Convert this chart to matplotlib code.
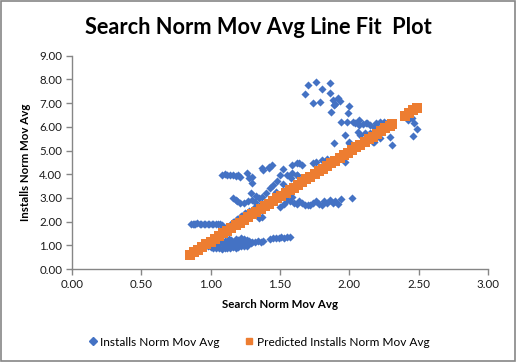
import numpy as np
import matplotlib
matplotlib.use('Agg')
from matplotlib import pyplot as plt
from matplotlib.patches import Rectangle
from matplotlib.lines import Line2D

# ----- DATA ----- #

# Installs Norm Mov Avg (actual)
inst_x = [0.86, 0.87, 0.88, 0.89, 0.90, 0.92, 0.93, 0.95, 0.96, 0.98, 0.99, 1.01, 1.02, 1.04, 1.05, 1.07, 1.08, 1.14,
          0.98, 1.00, 1.02, 1.04, 1.06, 1.08, 1.10, 1.12, 1.14, 1.16, 1.18, 1.20, 1.22, 1.24, 1.26,
          1.01, 1.03, 1.05, 1.07, 1.09, 1.11, 1.13, 1.15, 1.17, 1.19, 1.21, 1.23, 1.25, 1.27, 1.29,
          1.10, 1.13, 1.15, 1.18, 1.20, 1.22, 1.24, 1.26, 1.28, 1.30, 1.32, 1.34, 1.36, 1.38,
          1.43, 1.45, 1.47, 1.49, 1.51, 1.53, 1.55, 1.57,
          1.16, 1.19, 1.22, 1.25, 1.28, 1.31, 1.35, 1.35, 1.37,
          1.16, 1.18, 1.19, 1.21, 1.24, 1.27, 1.30, 1.32, 1.29, 1.33, 1.35, 1.37, 1.40, 1.47,
          1.08, 1.10, 1.12, 1.14, 1.16, 1.18, 1.20, 1.21, 1.26, 1.28, 1.30, 1.30, 1.37, 1.42, 1.44,
          1.50, 1.53, 1.55, 1.57, 1.59, 1.60, 1.62, 1.64, 1.66, 1.68, 1.70, 1.72, 1.74, 1.76, 1.78,
          1.80, 1.82, 1.84, 1.86, 1.88, 1.90, 1.92, 1.94, 2.02,
          1.43, 1.45, 1.48, 1.50, 1.52, 1.55, 1.58, 1.62,
          1.38, 1.42, 1.52, 1.59, 1.62, 1.64, 1.66, 1.59, 1.62, 1.74, 1.76, 1.80, 1.84,
          1.89, 1.97, 2.00, 1.97,
          1.68, 1.70, 1.74, 1.76, 1.79, 1.80, 1.86, 1.86, 1.87, 1.88, 1.89, 1.90, 1.92, 1.93, 1.99, 2.00,
          1.94, 1.98, 2.03, 2.04, 2.07, 2.07, 2.10, 2.12, 2.13, 2.15, 2.15, 2.18, 2.19, 2.20, 2.22, 2.25,
          2.27, 2.06, 2.08, 2.11, 2.29, 2.31, 2.00, 2.17, 2.18, 2.22,
          2.42, 2.45, 2.47, 2.49, 2.46]
inst_y = [1.88, 1.90, 1.92, 1.91, 1.93, 1.92, 1.90, 1.91, 1.92, 1.90, 1.92, 1.91, 1.89, 1.90, 1.88, 1.89, 1.87, 1.85,
          0.95, 0.92, 0.90, 0.88, 0.90, 0.86, 0.88, 0.90, 0.87, 0.92, 0.89, 0.93, 0.95, 0.98, 0.96,
          1.05, 1.08, 1.02, 1.10, 1.05, 1.12, 1.02, 1.08, 1.15, 1.05, 1.10, 1.18, 1.12, 1.05, 1.10,
          1.20, 1.25, 1.22, 1.28, 1.24, 1.30, 1.26, 1.22, 1.18, 1.15, 1.12, 1.18, 1.16, 1.20,
          1.27, 1.30, 1.29, 1.31, 1.33, 1.32, 1.35, 1.37,
          1.98, 2.12, 2.25, 2.36, 2.46, 2.56, 2.66, 2.15, 2.19,
          3.00, 2.92, 2.85, 2.78, 2.80, 2.85, 2.91, 2.83, 3.20, 3.10, 3.00, 3.05, 3.20, 3.25,
          3.97, 3.99, 3.98, 3.97, 3.96, 3.93, 3.95, 3.90, 4.05, 3.84, 3.63, 3.88, 4.26, 4.30, 4.38,
          2.62, 2.75, 2.90, 2.85, 3.04, 2.80, 2.75, 2.85, 2.78, 2.70, 2.72, 2.68, 2.80, 2.88, 2.75,
          2.70, 2.85, 2.78, 2.92, 2.80, 2.88, 2.74, 2.95, 3.00,
          3.40, 3.55, 3.70, 3.95, 3.60, 3.97, 3.84, 3.97,
          4.18, 4.26, 4.22, 4.39, 4.47, 4.47, 4.39, 4.05, 3.97, 4.47, 4.51, 4.60, 4.64,
          5.32, 5.65, 5.32, 4.51,
          7.38, 7.76, 7.00, 7.89, 7.05, 7.60, 7.85, 7.42, 6.62, 7.13, 6.92, 6.95, 7.20, 7.10, 6.58, 6.88,
          6.20, 6.20, 6.20, 6.16, 6.29, 6.08, 6.10, 6.16, 6.16, 6.08, 5.74, 6.00, 6.16, 6.00, 6.20, 6.20,
          6.15, 5.80, 5.65, 5.74, 5.57, 5.23, 5.36, 5.36, 5.36, 5.53,
          6.30, 6.37, 6.16, 5.90, 5.61]

# Predicted Installs Norm Mov Avg (line fit)
pred_x = [0.85, 0.88, 0.91, 0.94, 0.97, 1.00, 1.03, 1.06, 1.09, 1.12, 1.15, 1.18, 1.21, 1.24, 1.27, 1.30, 1.33,
          1.36, 1.39, 1.42, 1.45, 1.48, 1.51, 1.54, 1.57, 1.60, 1.63, 1.66, 1.69, 1.72, 1.75, 1.78, 1.81, 1.84,
          1.87, 1.90, 1.93, 1.96, 1.99, 2.02, 2.05, 2.08, 2.11, 2.14, 2.17, 2.20, 2.23, 2.26, 2.29, 2.31,
          2.40, 2.43, 2.46, 2.49]
pred_y = [0.59, 0.71, 0.82, 0.93, 1.05, 1.16, 1.27, 1.39, 1.50, 1.61, 1.73, 1.84, 1.96, 2.07, 2.18, 2.30, 2.41,
          2.52, 2.64, 2.75, 2.87, 2.98, 3.09, 3.21, 3.32, 3.43, 3.55, 3.66, 3.78, 3.89, 4.00, 4.12, 4.23, 4.34,
          4.46, 4.57, 4.68, 4.80, 4.91, 5.03, 5.14, 5.25, 5.37, 5.48, 5.59, 5.71, 5.82, 5.94, 6.05, 6.12,
          6.47, 6.58, 6.69, 6.81]

x_ticks = [0.0, 0.5, 1.0, 1.5, 2.0, 2.5, 3.0]
y_ticks = [0, 1, 2, 3, 4, 5, 6, 7, 8, 9]

# ----- PLOT ----- #

blue = '#4472C4'
orange = '#ED7D31'
grey = '#868686'
font = ['Lato', 'DejaVu Sans']

plt.rcParams['font.family'] = font

fig = plt.figure(figsize=(5.16, 3.62), dpi=100)
ax = fig.add_axes([0.1395, 0.2569, 0.8062, 0.5892])

ax.scatter(inst_x, inst_y, marker='D', s=17, color=blue, linewidths=0, zorder=2)
ax.scatter(pred_x, pred_y, marker='s', s=42, color=orange, linewidths=0, zorder=3)

ax.set_xlim(0, 3)
ax.set_ylim(0, 9)
ax.set_xticks(x_ticks)
ax.set_yticks(y_ticks)
ax.set_xticklabels([f'{v:.2f}' for v in x_ticks])
ax.set_yticklabels([f'{v:.2f}' for v in y_ticks])
ax.tick_params(direction='out', length=4, width=1, color=grey, labelsize=8.3, labelcolor='#1a1a1a', pad=3)

for s in ['top', 'right']:
    ax.spines[s].set_visible(False)
for s in ['left', 'bottom']:
    ax.spines[s].set_color(grey)
    ax.spines[s].set_linewidth(1)

ax.set_xlabel('Search Norm Mov Avg', fontsize=8.3, fontweight='bold', labelpad=7)
ax.set_ylabel('Installs Norm Mov Avg', fontsize=8.3, fontweight='bold', labelpad=6)

fig.text(0.5, 0.925, 'Search Norm Mov Avg Line Fit  Plot', ha='center', va='center',
         fontsize=15.7, fontweight='bold')

handles = [Line2D([], [], marker='D', color=blue, linestyle='none', markersize=4),
           Line2D([], [], marker='s', color=orange, linestyle='none', markersize=5)]
fig.legend(handles, ['Installs Norm Mov Avg', 'Predicted Installs Norm Mov Avg'],
           loc='center', bbox_to_anchor=(0.5, 0.055), ncol=2, frameon=False,
           fontsize=8.6, handletextpad=0.1, columnspacing=2.0, handlelength=1.0)

fig.patches.append(Rectangle((0.002, 0.003), 0.996, 0.994, transform=fig.transFigure,
                             fill=False, edgecolor=grey, linewidth=1.2))

plt.savefig('out.png', dpi=100)
